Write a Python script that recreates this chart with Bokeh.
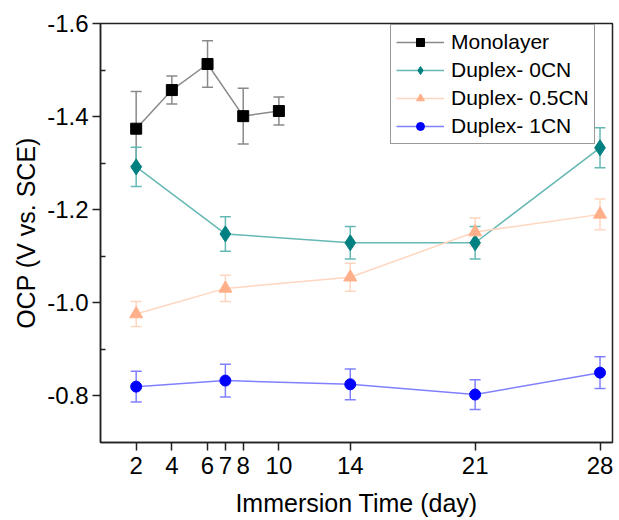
from bokeh.plotting import figure
from bokeh.models import Range1d, FixedTicker, PrintfTickFormatter, Whisker, TeeHead, ColumnDataSource, Legend, LegendItem
from bokeh.embed import file_html
from bokeh.resources import INLINE

# ---- data ----
mono_x = [2, 4, 6, 8, 10]
mono_y = [-1.374, -1.457, -1.513, -1.401, -1.412]
mono_err = [0.08, 0.03, 0.05, 0.06, 0.03]

dup_x = [2, 7, 14, 21, 28]
d0_y = [-1.292, -1.148, -1.129, -1.129, -1.333]
d0_err = [0.042, 0.037, 0.035, 0.035, 0.043]
d05_y = [-0.976, -1.031, -1.055, -1.152, -1.190]
d05_err = [0.027, 0.028, 0.030, 0.030, 0.033]
d1_y = [-0.820, -0.833, -0.825, -0.803, -0.850]
d1_err = [0.033, 0.035, 0.033, 0.032, 0.034]

x_ticks = [2, 4, 6, 7, 8, 10, 14, 21, 28]
y_ticks = [-1.6, -1.4, -1.2, -1.0, -0.8]
y_minor = [-1.5, -1.3, -1.1, -0.9]

FONT = "Liberation Sans"

p = figure(frame_width=512, frame_height=419, output_backend="svg", toolbar_location=None,
           x_range=Range1d(0, 28.7), y_range=Range1d(-0.7, -1.6),
           min_border_left=100, min_border_right=2, min_border_top=23, min_border_bottom=68)
p.grid.visible = False
p.outline_line_color = "#222222"
p.outline_line_width = 1.5
p.background_fill_color = "white"

p.xaxis.ticker = FixedTicker(ticks=x_ticks)
p.yaxis.ticker = FixedTicker(ticks=y_ticks, minor_ticks=y_minor)
p.yaxis.formatter = PrintfTickFormatter(format="%.1f")
for ax in (p.xaxis, p.yaxis):
    ax.major_label_text_font = FONT
    ax.major_label_text_font_size = "24px"
    ax.major_label_text_color = "black"
    ax.axis_label_text_font = FONT
    ax.axis_label_text_font_size = "25px"
    ax.axis_label_text_font_style = "normal"
    ax.axis_label_text_color = "black"
    ax.axis_line_color = "#222222"
    ax.axis_line_width = 1.5
    ax.major_tick_line_color = "#222222"
    ax.major_tick_line_width = 1.5
    ax.major_tick_in = 0
    ax.major_tick_out = 8
    ax.minor_tick_line_color = "#222222"
    ax.minor_tick_line_width = 1.5
p.xaxis.minor_tick_line_color = None
p.yaxis.minor_tick_in = 5
p.yaxis.minor_tick_out = 0
p.xaxis.axis_label = "Immersion Time (day)"
p.yaxis.axis_label = "OCP (V vs. SCE)"
p.xaxis.axis_label_standoff = 12
p.yaxis.axis_label_standoff = 4
p.xaxis.major_label_standoff = 6
p.yaxis.major_label_standoff = 4

series = [
    ("Monolayer", mono_x, mono_y, mono_err, "black", "#8a8a8a", "square", 11),
    ("Duplex- 0CN", dup_x, d0_y, d0_err, "#008080", "#66b8b4", "diamond", 16),
    ("Duplex- 0.5CN", dup_x, d05_y, d05_err, "#ffb08a", "#ffd6bf", "triangle", 13),
    ("Duplex- 1CN", dup_x, d1_y, d1_err, "#0000ff", "#8080ff", "circle", 11),
]

items = []
for name, xs, ys, errs, mcol, lcol, marker, size in series:
    src = ColumnDataSource(dict(x=xs, y=ys,
                                upper=[y + e for y, e in zip(ys, errs)],
                                lower=[y - e for y, e in zip(ys, errs)]))
    w = Whisker(base="x", upper="upper", lower="lower", source=src,
                line_color=lcol, line_width=1.5,
                upper_head=TeeHead(size=11, line_color=lcol, line_width=1.5),
                lower_head=TeeHead(size=11, line_color=lcol, line_width=1.5))
    p.add_layout(w)
    ln = p.line("x", "y", source=src, line_color=lcol, line_width=1.5)
    sc = p.scatter("x", "y", source=src, marker=marker, size=size,
                   fill_color=mcol, line_color=mcol)
    items.append(LegendItem(label=name, renderers=[ln, sc]))

legend = Legend(items=items, location=(290, 298))
legend.label_text_font = FONT
legend.label_text_font_size = "21px"
legend.label_text_color = "black"
legend.glyph_width = 48
legend.glyph_height = 20
legend.label_height = 20
legend.spacing = 4
legend.padding = 5
legend.label_standoff = 7
legend.border_line_color = "#333333"
legend.border_line_width = 1.2
legend.background_fill_color = "white"
legend.background_fill_alpha = 1.0
legend.margin = 0
p.add_layout(legend, "center")

open("out.html", "w").write(file_html(p, INLINE))
